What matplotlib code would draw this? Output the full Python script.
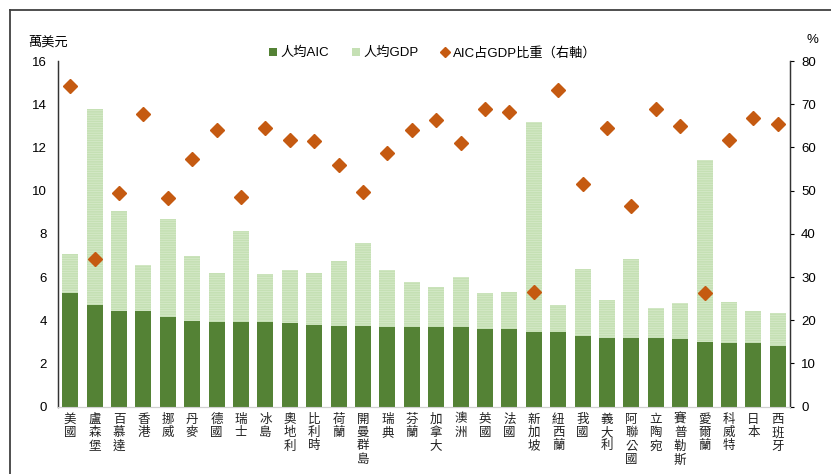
import matplotlib
matplotlib.use("Agg")
import matplotlib.pyplot as plt
from matplotlib.lines import Line2D
from matplotlib.patches import Patch
import numpy as np

plt.rcParams['font.family'] = ['Liberation Sans', 'Noto Sans CJK TC', 'DejaVu Sans']
plt.rcParams['hatch.linewidth'] = 0.5

countries = ["美國", "盧森堡", "百慕達", "香港", "挪威", "丹麥", "德國", "瑞士", "冰島", "奧地利",
             "比利時", "荷蘭", "開曼群島", "瑞典", "芬蘭", "加拿大", "澳洲", "英國", "法國", "新加坡",
             "紐西蘭", "我國", "義大利", "阿聯公國", "立陶宛", "賽普勒斯", "愛爾蘭", "科威特", "日本", "西班牙"]
aic = [5.24, 4.70, 4.45, 4.42, 4.16, 3.97, 3.93, 3.93, 3.93, 3.87,
       3.77, 3.74, 3.74, 3.68, 3.67, 3.67, 3.67, 3.60, 3.60, 3.48,
       3.44, 3.27, 3.19, 3.19, 3.16, 3.13, 2.99, 2.96, 2.93, 2.82]
gdp = [7.07, 13.8, 9.04, 6.56, 8.67, 6.96, 6.18, 8.13, 6.13, 6.31,
       6.18, 6.74, 7.56, 6.31, 5.76, 5.54, 6.02, 5.25, 5.31, 13.16,
       4.71, 6.39, 4.96, 6.85, 4.59, 4.82, 11.43, 4.84, 4.42, 4.34]
ratio = [74.2, 34.2, 49.5, 67.7, 48.4, 57.3, 64.1, 48.6, 64.4, 61.8,
         61.5, 56.0, 49.8, 58.7, 64.1, 66.4, 61.0, 68.9, 68.1, 26.5,
         73.2, 51.5, 64.5, 46.4, 68.9, 65.0, 26.3, 61.7, 66.8, 65.5]

DARK = "#548235"
LIGHT = "#c5e0b4"
ORANGE = "#c55a11"

fig = plt.figure(figsize=(8.31, 4.74), dpi=100)
ax = fig.add_axes([58 / 831, 67.3 / 474, 732 / 831, 345.7 / 474])
ax2 = ax.twinx()

x = np.arange(len(countries))
ax.bar(x, gdp, width=0.66, color=LIGHT, edgecolor="#d8ebcc", linewidth=0, hatch="-------", zorder=2)
ax.bar(x, aic, width=0.66, color=DARK, linewidth=0, zorder=3)
ax2.plot(x, ratio, linestyle="none", marker="D", markersize=7, color=ORANGE, zorder=4)

ax.set_xlim(-0.5, len(countries) - 0.5)
ax.set_ylim(0, 16)
ax.set_yticks(range(0, 17, 2))
ax2.set_ylim(0, 80)
ax2.set_yticks(range(0, 81, 10))

ax.set_xticks(x)
ax.set_xticklabels(["\n".join(c) for c in countries], fontsize=9, linespacing=1.15, color="#222222")
ax.tick_params(axis="x", length=0, pad=5)
ax.tick_params(axis="y", length=0, pad=8, labelsize=9.5)
ax2.tick_params(axis="y", length=3, width=0.8, pad=5, labelsize=9.5, direction="out")

for a in (ax, ax2):
    a.spines["top"].set_visible(False)
    a.spines["bottom"].set_color("#d0d0d0")
    a.spines["left"].set_color("#333333")
    a.spines["right"].set_color("#333333")
    a.spines["left"].set_linewidth(0.9)
    a.spines["right"].set_linewidth(0.9)

fig.text(28 / 831, 1 - 42 / 474, "萬美元", fontsize=9.5, va="center", ha="left")
fig.text(812 / 831, 1 - 40 / 474, "%", fontsize=9.5, va="center", ha="center")

handles = [Patch(facecolor=DARK, edgecolor="none"),
           Patch(facecolor=LIGHT, edgecolor="none"),
           Line2D([], [], linestyle="none", marker="D", markersize=5, color=ORANGE)]
fig.legend(handles, ["人均AIC", "人均GDP", "AIC占GDP比重（右軸）"], loc="center",
           bbox_to_anchor=(433 / 831, 1 - 53 / 474), ncol=3, frameon=False, fontsize=9.5,
           handlelength=0.6, handleheight=0.6, handletextpad=0.3, columnspacing=1.7)

# outer frame (top and left edges visible)
fig.add_artist(Line2D([9.5 / 831, 9.5 / 831], [0, 1 - 10 / 474], transform=fig.transFigure,
                      color="#404040", linewidth=1.3))
fig.add_artist(Line2D([9.5 / 831, 1], [1 - 10 / 474, 1 - 10 / 474], transform=fig.transFigure,
                      color="#404040", linewidth=1.3))

fig.savefig("out.png", dpi=100)
